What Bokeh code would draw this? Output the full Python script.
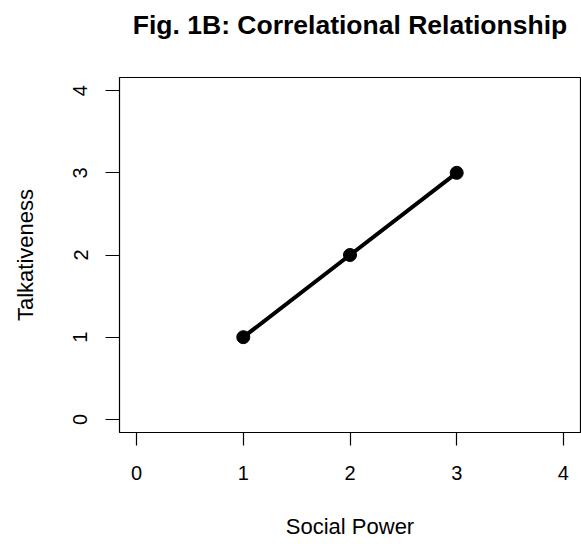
from bokeh.plotting import figure
from bokeh.models import Range1d, FixedTicker, Title
from bokeh.embed import file_html
from bokeh.resources import INLINE

# Data
social_power = [1, 2, 3]
talkativeness = [1, 2, 3]
x_ticks = [0, 1, 2, 3, 4]
y_ticks = [0, 1, 2, 3, 4]
title_text = "Fig. 1B: Correlational Relationship"
x_label = "Social Power"
y_label = "Talkativeness"

FONT = "Liberation Sans"

p = figure(width=581, height=544,
           x_range=Range1d(-0.16, 4.16), y_range=Range1d(-0.16, 4.16),
           output_backend="svg", toolbar_location=None,
           min_border_left=119, min_border_right=1,
           min_border_top=77, min_border_bottom=112)

p.background_fill_color = "white"
p.border_fill_color = "white"
p.outline_line_color = "black"
p.outline_line_width = 1.2
p.grid.visible = False

# spacer between the frame and the title (nearest to the frame)
spacer = Title(text=" ", text_font_size="1px", standoff=28, text_color="white")
p.add_layout(spacer, "above")
main_title = Title(text=title_text, text_font=FONT, text_font_size="26.5px",
                   text_font_style="bold", text_color="black", align="center",
                   standoff=14)
p.add_layout(main_title, "above")

for ax, ticks in ((p.xaxis, x_ticks), (p.yaxis, y_ticks)):
    ax.ticker = FixedTicker(ticks=ticks)
    ax.axis_line_color = None
    ax.major_tick_in = 0
    ax.minor_tick_line_color = None
    ax.major_tick_line_color = "black"
    ax.major_tick_line_width = 1.2
    ax.major_label_text_font = FONT
    ax.major_label_text_font_size = "20px"
    ax.major_label_text_color = "black"
    ax.axis_label_text_font = FONT
    ax.axis_label_text_font_size = "22px"
    ax.axis_label_text_font_style = "normal"
    ax.axis_label_text_color = "black"

p.xaxis.major_tick_out = 13
p.xaxis.major_label_standoff = 20
p.xaxis.axis_label = x_label
p.xaxis.axis_label_standoff = 31

p.yaxis.major_tick_out = 14
p.yaxis.major_label_orientation = "vertical"
p.yaxis.major_label_standoff = 18
p.yaxis.axis_label = y_label
p.yaxis.axis_label_standoff = 33

p.line(social_power, talkativeness, line_color="black", line_width=4)
p.scatter(social_power, talkativeness, size=13, marker="circle",
          fill_color="black", line_color="black")

open("out.html", "w").write(file_html(p, INLINE))
